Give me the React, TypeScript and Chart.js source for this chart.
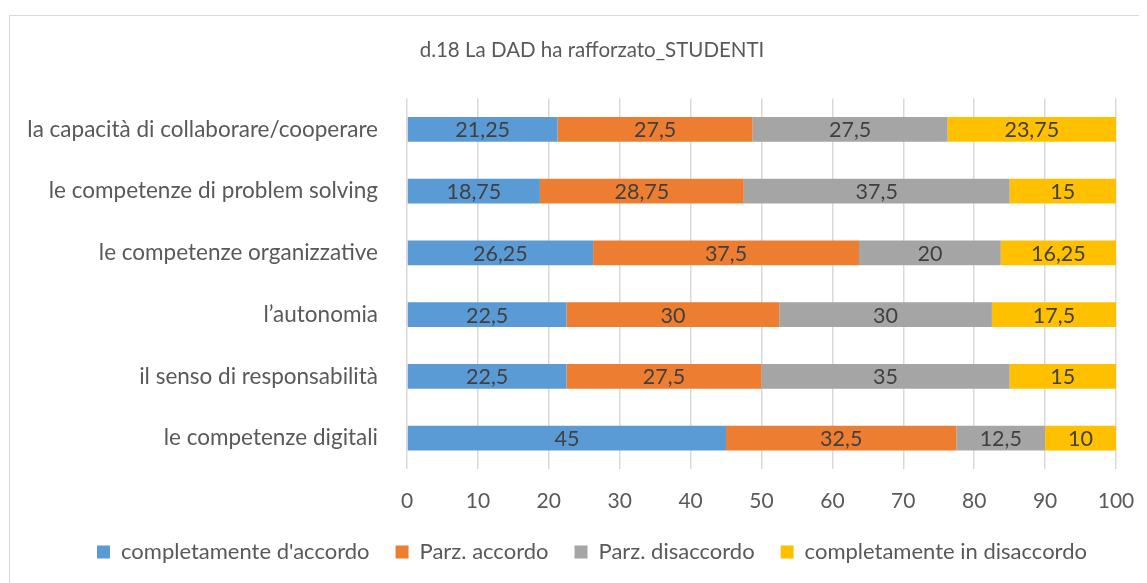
import React, { useEffect, useRef } from "react";
import { Chart, registerables } from "chart.js";

Chart.register(...registerables);

const categories = [
  "la capacità di collaborare/cooperare",
  "le competenze di problem solving",
  "le competenze organizzative",
  "l’autonomia",
  "il senso di responsabilità",
  "le competenze digitali",
];
const completamenteAccordo = [21.25, 18.75, 26.25, 22.5, 22.5, 45];
const parzAccordo = [27.5, 28.75, 37.5, 30, 27.5, 32.5];
const parzDisaccordo = [27.5, 37.5, 20, 30, 35, 12.5];
const completamenteDisaccordo = [23.75, 15, 16.25, 17.5, 15, 10];
const seriesNames = [
  "completamente d'accordo",
  "Parz. accordo",
  "Parz. disaccordo",
  "completamente in disaccordo",
];
const seriesColors = ["#5B9BD5", "#ED7D31", "#A5A5A5", "#FFC000"];
const titleText = "d.18 La DAD ha rafforzato_STUDENTI";

const FONT = "Lato";

const fmt = (v: number) => String(v).replace(".", ",");

const labelPlugin = {
  id: "barLabels",
  afterDatasetsDraw(chart: any) {
    const ctx = chart.ctx;
    ctx.save();
    ctx.font = `21.5px ${FONT}`;
    ctx.fillStyle = "#404040";
    ctx.textAlign = "center";
    ctx.textBaseline = "middle";
    chart.data.datasets.forEach((ds: any, i: number) => {
      const meta = chart.getDatasetMeta(i);
      meta.data.forEach((el: any, j: number) => {
        const v = ds.data[j];
        const cx = (el.x + el.base) / 2;
        ctx.fillText(fmt(v), cx, el.y + 1);
      });
    });
    ctx.restore();
  },
};

const borderPlugin = {
  id: "outerBorder",
  beforeDraw(chart: any) {
    const ctx = chart.ctx;
    ctx.save();
    ctx.fillStyle = "#ffffff";
    ctx.fillRect(0, 0, chart.width, chart.height);
    ctx.strokeStyle = "#D9D9D9";
    ctx.lineWidth = 1;
    ctx.strokeRect(1.5, 7.5, chart.width - 4, chart.height + 10);
    ctx.restore();
  },
};

export default function App() {
  const ref = useRef<HTMLCanvasElement>(null);
  useEffect(() => {
    if (!ref.current) return;
    const data = [completamenteAccordo, parzAccordo, parzDisaccordo, completamenteDisaccordo];
    const chart = new Chart(ref.current, {
      type: "bar",
      data: {
        labels: categories,
        datasets: data.map((d, i) => ({
          label: seriesNames[i],
          data: d,
          backgroundColor: seriesColors[i],
          borderWidth: 0,
          categoryPercentage: 0.4,
          barPercentage: 1,
        })),
      },
      options: {
        indexAxis: "y",
        responsive: false,
        animation: false,
        layout: { padding: { left: 0, right: 0, top: 0, bottom: 10 } },
        scales: {
          x: {
            stacked: true,
            min: 0,
            max: 100,
            ticks: {
              stepSize: 10,
              color: "#595959",
              font: { family: FONT, size: 21 },
              padding: 20,
            },
            grid: { color: "#D9D9D9", lineWidth: 1.5, drawTicks: false },
            border: { display: false },
            afterFit: (s: any) => {
              s.height = 46;
            },
          },
          y: {
            stacked: true,
            ticks: {
              color: "#595959",
              font: { family: FONT, size: 22.5 },
              padding: 29,
            },
            grid: { display: false, drawTicks: false },
            border: { display: false },
            afterFit: (s: any) => {
              s.width = 399;
            },
          },
          yRight: {
            type: "linear",
            axis: "y",
            position: "right",
            ticks: { display: false },
            grid: { display: false, drawTicks: false },
            border: { display: false },
            afterFit: (s: any) => {
              s.width = 60;
            },
          },
        },
        plugins: {
          title: {
            display: true,
            text: titleText,
            color: "#595959",
            font: { family: FONT, size: 20.5, weight: "normal" },
            padding: { top: 30, bottom: 36 },
          },
          legend: {
            position: "bottom",
            labels: {
              color: "#595959",
              font: { family: FONT, size: 22 },
              boxWidth: 13,
              boxHeight: 13,
              padding: 26,
            },
          },
          tooltip: { enabled: false },
        },
      },
      plugins: [borderPlugin, labelPlugin],
    });
    return () => chart.destroy();
  }, []);
  return (
    <div style={{ width: 1139, height: 575, overflow: "hidden" }}>
      <canvas ref={ref} width={1168} height={575} style={{ display: "block" }} />
    </div>
  );
}
